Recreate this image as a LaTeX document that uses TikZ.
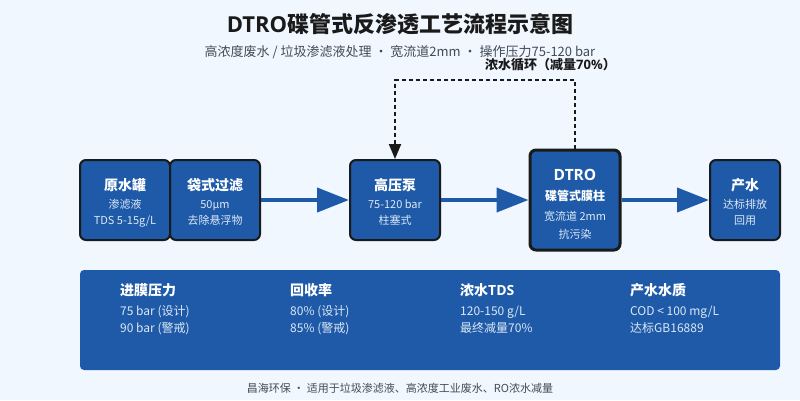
\documentclass[tikz,border=0pt]{standalone}
\usepackage{fontspec}
\setmainfont{Noto Sans CJK SC}
\newfontfamily\latb{Open Sans}
\usetikzlibrary{arrows.meta}
\definecolor{bgc}{HTML}{F0F7FF}
\definecolor{bluec}{HTML}{1E5AA8}
\definecolor{edgec}{HTML}{1A1A1A}
\definecolor{subc}{HTML}{DCE8F6}
\definecolor{greyc}{HTML}{444B55}
\newcommand{\fs}[1]{\fontsize{#1}{#1}\selectfont}
\newcommand{\lb}[1]{{\latb\bfseries #1}}
\tikzset{
  x=1pt,y=-1pt,
  box/.style={draw=edgec,fill=bluec,line width=2pt,rounded corners=6pt,inner sep=0pt,minimum height=80pt},
  mainbox/.style={box,line width=3pt,minimum height=100pt},
  txt/.style={inner sep=0pt,anchor=base},
  htitle/.style={txt,white,font=\fs{14}\bfseries},
  hsub/.style={txt,subc,font=\fs{11}},
  ptitle/.style={txt,anchor=base west,white,font=\fs{14}\bfseries},
  pline/.style={txt,anchor=base west,subc,font=\fs{12}},
  flow/.style={draw=bluec,line width=4pt,-{Triangle[length=32pt,width=24pt]}},
  recycle/.style={draw=edgec,line width=2pt,dash pattern=on 4pt off 3pt,-{Triangle[length=15pt,width=12pt]}}
}
\begin{document}
\begin{tikzpicture}
\useasboundingbox (0,0) rectangle (800,400);
\fill[bgc] (0,0) rectangle (800,400);
\node[txt,edgec,font=\fs{22}\bfseries] (title) at (400,32) {\lb{DTRO}碟管式反渗透工艺流程示意图};
\node[txt,greyc,font=\fs{13}] (subtitle) at (400,56) {高浓度废水 / 垃圾渗滤液处理 ・ 宽流道2mm ・ 操作压力75-120 bar};
\node[txt,edgec,font=\fs{13}\bfseries] (reclabel) at (550.5,69.5) {浓水循环（减量\lb{70\%}）};
% boxes
\node[box,minimum width=90pt] (tank) at (125,200) {};
\node[box,minimum width=90pt] (bag) at (215,200) {};
\node[box,minimum width=90pt] (pump) at (395,200) {};
\node[mainbox,minimum width=90pt] (dtro) at (575,200) {};
\node[box,minimum width=70pt] (prod) at (745,200) {};
\coordinate (ca) at (575,80);
\coordinate (cb) at (395,80);
% connectors
\draw[flow] (bag.east) -- (pump.west);
\draw[flow] (pump.east) -- (dtro.west);
\draw[flow] (dtro.east) -- (prod.west);
\draw[recycle] (dtro.north) -- (ca) -- (cb) -- (pump.north);
% box text
\node[htitle] (t1) at (125,190) {原水罐};
\node[hsub] (t1a) at (125,208) {渗滤液};
\node[hsub] (t1b) at (125,224) {TDS 5-15g/L};
\node[htitle] (t2) at (215,190) {袋式过滤};
\node[hsub] (t2a) at (215,208) {50µm};
\node[hsub] (t2b) at (215,224) {去除悬浮物};
\node[htitle] (t3) at (395,190) {高压泵};
\node[hsub] (t3a) at (395,208) {75-120 bar};
\node[hsub] (t3b) at (395,224) {柱塞式};
\node[htitle,font=\fs{15.5}\bfseries] (t4) at (575,180) {\lb{DTRO}};
\node[txt,white,font=\fs{12}\bfseries] (t4a) at (575,200) {碟管式膜柱};
\node[hsub] (t4b) at (575,220) {宽流道 2mm};
\node[hsub] (t4c) at (575,238) {抗污染};
\node[htitle] (t5) at (745,190) {产水};
\node[hsub] (t5a) at (745,208) {达标排放};
\node[hsub] (t5b) at (745,224) {回用};
% panel
\node[fill=bluec,rounded corners=4pt,inner sep=0pt,minimum width=700pt,minimum height=100pt] (panel) at (430,320) {};
\node[ptitle] (p1) at (120,295) {进膜压力};
\node[pline] (p1a) at (120,315) {75 bar (设计)};
\node[pline] (p1b) at (120,332) {90 bar (警戒)};
\node[ptitle] (p2) at (290,295) {回收率};
\node[pline] (p2a) at (290,315) {80\% (设计)};
\node[pline] (p2b) at (290,332) {85\% (警戒)};
\node[ptitle] (p3) at (460,295) {浓水\lb{TDS}};
\node[pline] (p3a) at (460,315) {120-150 g/L};
\node[pline] (p3b) at (460,332) {最终减量70\%};
\node[ptitle] (p4) at (630,295) {产水水质};
\node[pline] (p4a) at (630,315) {COD < 100 mg/L};
\node[pline] (p4b) at (630,332) {达标GB16889};
\node[txt,greyc,font=\fs{11}] (foot) at (400,392) {昌海环保 ・ 适用于垃圾渗滤液、高浓度工业废水、RO浓水减量};
\end{tikzpicture}
\end{document}
